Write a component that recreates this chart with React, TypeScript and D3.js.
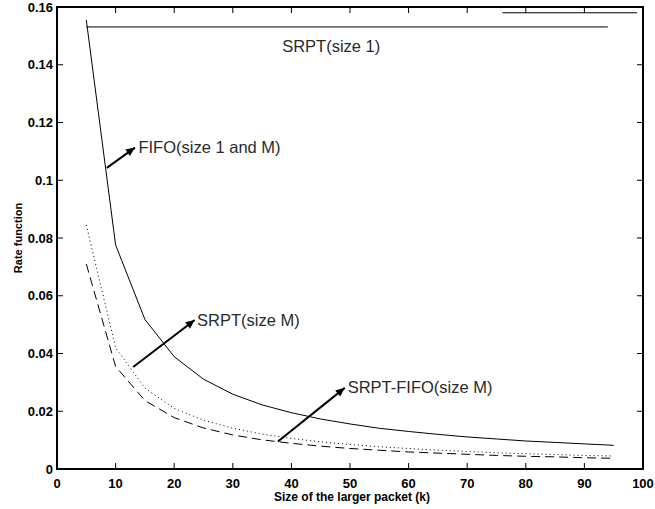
import React from 'react'
import * as d3 from 'd3'

// sizes of the larger packet (k)
const sizes = [5, 10, 15, 20, 25, 30, 35, 40, 45, 50, 55, 60, 65, 70, 75, 80, 85, 90, 95]

// rate function values
const fifoRate = [0.1555, 0.0776, 0.0518, 0.0389, 0.0311, 0.0259, 0.0222, 0.0195, 0.0173, 0.0156,
  0.0141, 0.0130, 0.0120, 0.0111, 0.0104, 0.0097, 0.0092, 0.0087, 0.0082]
const srptMRate = [0.0845, 0.0420, 0.0280, 0.0210, 0.0169, 0.0141, 0.0121, 0.0106, 0.0094, 0.0085,
  0.0077, 0.0071, 0.0065, 0.0061, 0.0056, 0.0053, 0.0050, 0.0047, 0.0045]
const srptFifoRate = [0.0710, 0.0355, 0.0237, 0.0178, 0.0142, 0.0118, 0.0101, 0.0089, 0.0079, 0.0071,
  0.0065, 0.0059, 0.0055, 0.0051, 0.0047, 0.0044, 0.0042, 0.0039, 0.0037]

// flat SRPT(size 1) line and the stray short line at the top right
const srpt1X = [5, 94]
const srpt1Rate = [0.1531, 0.1531]
const topLineX = [76, 99]
const topLineRate = [0.158, 0.158]

const xTicks = [0, 10, 20, 30, 40, 50, 60, 70, 80, 90, 100]
const yTicks = [0, 0.02, 0.04, 0.06, 0.08, 0.1, 0.12, 0.14, 0.16]

// annotations: [tailX, tailY, headX, headY]
const arrows = [
  [8.5, 0.1043, 13.3, 0.1113],
  [13.0, 0.0353, 23.5, 0.0516],
  [37.7, 0.0095, 49.1, 0.0281],
]
const labels = [
  { text: 'FIFO(size 1 and M)', x: 13.9, y: 0.1115, anchor: 'start' },
  { text: 'SRPT(size M)', x: 23.9, y: 0.0516, anchor: 'start' },
  { text: 'SRPT-FIFO(size M)', x: 49.6, y: 0.0283, anchor: 'start' },
  { text: 'SRPT(size 1)', x: 46.8, y: 0.1465, anchor: 'middle' },
]

const W = 655
const H = 509
const left = 57, right = 643, top = 7, bottom = 469

export default function App() {
  const x = d3.scaleLinear().domain([0, 100]).range([left, right])
  const y = d3.scaleLinear().domain([0, 0.16]).range([bottom, top])

  const line = d3.line<[number, number]>()
    .x((d) => x(d[0]))
    .y((d) => y(d[1]))

  const path = (xs: number[], ys: number[]) => line(xs.map((v, i) => [v, ys[i]]) as [number, number][]) || ''

  const arrowHead = (a: number[]) => {
    const x1 = x(a[0]), y1 = y(a[1]), x2 = x(a[2]), y2 = y(a[3])
    const ang = Math.atan2(y2 - y1, x2 - x1)
    const len = 9, wid = 4
    const bx = x2 - len * Math.cos(ang), by = y2 - len * Math.sin(ang)
    const px = -Math.sin(ang) * wid, py = Math.cos(ang) * wid
    return `M${x2},${y2}L${bx + px},${by + py}L${bx - px},${by - py}Z`
  }

  const tickFont = { fontFamily: 'Liberation Sans, Arial, sans-serif', fontWeight: 'bold' as const, fontSize: 13 }
  const noteFont = { fontFamily: 'Liberation Sans, Arial, sans-serif', fontSize: 16.5, fill: '#2a2a2a' }

  return (
    <svg width={W} height={H} style={{ position: 'absolute', left: 0, top: 0, background: '#fff' }}>
      <rect x={0} y={0} width={W} height={H} fill="#fff" />

      {/* ticks, inward on all four sides */}
      {xTicks.map((t) => (
        <g key={'x' + t}>
          <line x1={x(t)} x2={x(t)} y1={bottom} y2={bottom - 6} stroke="#000" />
          <line x1={x(t)} x2={x(t)} y1={top} y2={top + 6} stroke="#000" />
          <text x={x(t)} y={bottom + 19} textAnchor="middle" {...tickFont}>{t}</text>
        </g>
      ))}
      {yTicks.map((t) => (
        <g key={'y' + t}>
          <line x1={left} x2={left + 6} y1={y(t)} y2={y(t)} stroke="#000" />
          <line x1={right} x2={right - 6} y1={y(t)} y2={y(t)} stroke="#000" />
          <text x={left - 4} y={y(t)} dy="0.35em" textAnchor="end" {...tickFont}>{d3.format('~g')(t)}</text>
        </g>
      ))}

      <rect x={left} y={top} width={right - left} height={bottom - top} fill="none" stroke="#000" strokeWidth={2} />

      {/* curves */}
      <path d={path(sizes, fifoRate)} fill="none" stroke="#000" strokeWidth={1} />
      <path d={path(sizes, srptMRate)} fill="none" stroke="#000" strokeWidth={1} strokeDasharray="1,3" />
      <path d={path(sizes, srptFifoRate)} fill="none" stroke="#000" strokeWidth={1} strokeDasharray="9,5" />
      <path d={path(srpt1X, srpt1Rate)} fill="none" stroke="#000" strokeWidth={1} />
      <path d={path(topLineX, topLineRate)} fill="none" stroke="#000" strokeWidth={1} />

      {/* annotations */}
      {arrows.map((a, i) => (
        <g key={'a' + i}>
          <line x1={x(a[0])} y1={y(a[1])} x2={x(a[2])} y2={y(a[3])} stroke="#000" strokeWidth={2} />
          <path d={arrowHead(a)} fill="#000" />
        </g>
      ))}
      {labels.map((l) => (
        <text key={l.text} x={x(l.x)} y={y(l.y)} dy="0.35em" textAnchor={l.anchor as any} {...noteFont}>{l.text}</text>
      ))}

      <text x={(left + right) / 2 + 2} y={501} textAnchor="middle" {...tickFont} fontSize={12}>Size of the larger packet (k)</text>
      <text transform={`translate(22,${(top + bottom) / 2}) rotate(-90)`} textAnchor="middle" {...tickFont} fontSize={11}>Rate function</text>
    </svg>
  )
}
